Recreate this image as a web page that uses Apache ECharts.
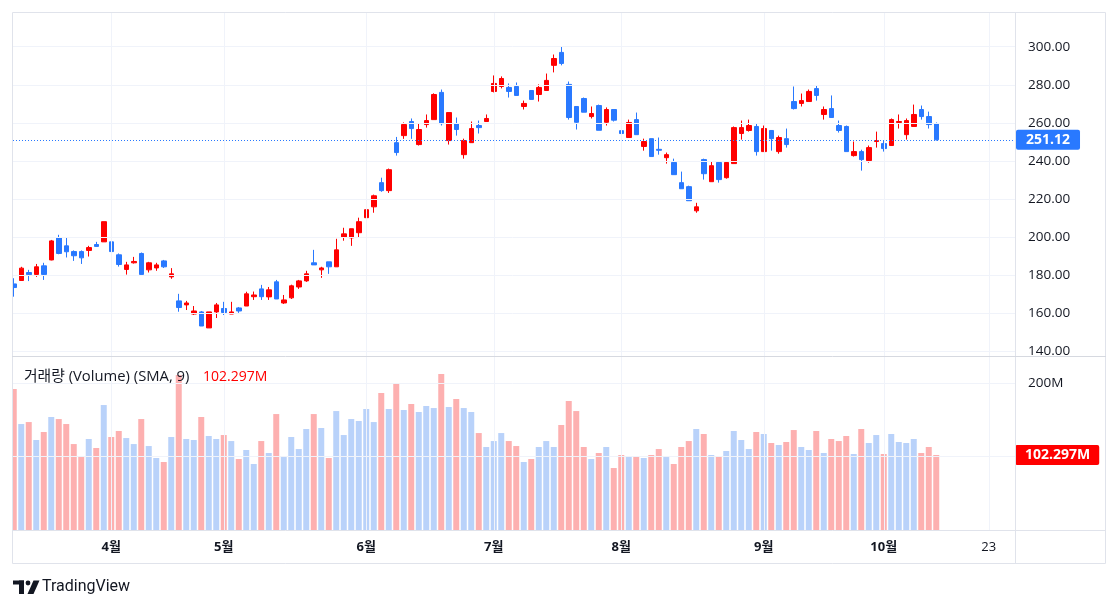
<!DOCTYPE html>
<html>
<head>
<meta charset="utf-8">
<script src="https://cdn.jsdelivr.net/npm/echarts@6/dist/echarts.min.js"></script>
<style>
html,body{margin:0;padding:0;background:#fff;}
#chart{width:1118px;height:609px;}
</style>
</head>
<body>
<div id="chart"></div>
<script>
// ---------------- DATA ----------------
const opens = [175.4,177.2,181.4,180.4,184.9,188.0,199.6,195.4,192.4,192.4,193.0,196.1,197.5,197.5,190.7,183.0,186.5,191.4,182.8,183.8,187.5,179.1,166.5,164.4,159.6,160.7,152.3,160.7,162.5,159.6,162.8,163.8,168.7,172.8,168.6,176.5,165.4,168.1,173.8,177.0,186.5,182.8,187.0,184.4,200.1,199.6,202.3,210.2,215.9,228.6,224.4,249.6,253.3,260.7,248.6,259.1,261.7,276.0,250.7,259.6,243.3,249.6,258.6,260.7,276.5,279.1,278.6,279.1,268.6,277.0,274.9,277.0,290.2,297.0,280.2,268.6,272.8,263.3,269.1,260.3,267.0,255.9,252.3,261.7,247.6,251.7,246.1,241.7,239.2,228.6,226.5,213.8,240.7,229.1,239.2,231.2,238.6,254.4,256.0,258.1,244.9,256.0,244.9,251.7,271.2,270.2,271.2,278.0,264.4,267.5,258.6,258.1,242.8,244.9,240.2,250.2,249.1,248.1,260.2,253.8,258.1,267.0,263.3,259.6];
const closes = [173.5,183.7,180.3,184.4,180.4,198.0,191.4,192.3,190.2,189.1,194.5,195.1,208.1,192.4,185.6,185.4,187.2,180.4,186.5,185.4,184.4,180.7,163.0,165.4,161.2,153.3,160.7,164.4,160.4,160.7,161.2,170.2,169.6,168.7,172.3,167.5,167.0,174.4,177.0,180.7,185.4,183.8,184.4,193.3,201.7,204.4,208.1,214.4,221.7,224.4,235.4,244.4,259.1,257.0,256.5,261.2,274.9,259.6,265.4,256.5,250.7,257.0,257.5,262.3,280.7,283.3,276.5,274.4,270.2,272.3,278.6,282.3,293.8,291.2,262.8,260.3,265.6,264.9,256.1,267.0,261.4,254.4,260.2,253.8,250.2,242.3,245.6,243.3,232.8,225.4,219.1,215.9,233.3,237.5,230.2,239.2,257.5,257.5,258.6,244.9,257.0,251.7,252.3,248.6,267.5,271.7,276.5,274.4,267.0,262.8,256.0,244.9,244.9,240.7,247.0,250.7,246.5,261.7,260.7,261.2,264.4,263.3,259.1,251.12];
const lows = [168.7,177.2,176.9,179.1,177.5,187.8,191.0,189.3,187.5,185.9,189.8,195.0,197.5,190.7,184.5,180.3,186.1,180.4,181.4,182.3,183.8,178.1,160.8,161.7,159.1,153.3,152.3,157.5,159.1,159.6,160.2,163.8,167.0,167.0,167.0,167.5,164.9,167.5,172.8,176.5,185.4,178.6,180.7,184.4,198.1,195.4,199.6,210.2,212.8,223.8,223.2,242.8,251.6,251.6,248.1,257.5,261.7,258.6,248.6,253.3,241.2,249.6,254.4,260.7,276.0,278.1,273.3,274.4,267.0,272.3,271.2,277.0,286.5,290.2,261.7,256.5,265.6,262.3,256.1,258.6,260.7,251.2,252.3,253.8,245.4,242.3,243.3,238.6,232.8,225.4,219.1,212.8,230.2,229.1,228.6,230.7,238.6,251.2,255.4,242.8,244.9,245.4,243.8,247.0,267.0,268.6,271.2,271.7,261.7,262.8,254.9,244.9,242.3,234.9,239.1,247.0,244.9,248.1,257.0,251.2,258.1,261.7,257.0,250.7];
const highs = [178.4,184.4,182.8,185.9,186.5,198.5,201.2,199.6,193.0,193.0,195.4,197.5,208.1,199.1,191.4,187.0,189.6,191.9,187.0,186.5,188.0,183.7,170.2,166.5,163.8,161.2,160.7,165.4,166.0,166.0,163.3,171.3,171.4,174.9,173.8,177.5,169.6,175.0,177.5,182.3,193.3,184.4,187.0,199.1,204.9,204.4,210.2,217.5,222.3,231.2,236.0,252.6,260.2,262.3,259.6,264.4,275.5,277.5,265.4,262.8,251.7,260.7,261.2,264.4,284.9,284.4,280.7,281.2,271.7,277.0,280.2,285.9,295.9,300.2,281.7,268.6,273.3,268.6,269.6,268.1,267.0,260.2,261.7,265.4,251.7,251.7,252.3,244.4,241.2,234.4,227.0,218.0,241.2,239.6,239.6,239.6,258.1,261.2,261.7,259.6,258.6,256.0,253.3,257.0,279.1,275.4,277.5,279.6,268.6,274.4,261.2,258.6,250.2,245.9,248.1,255.4,250.7,262.3,264.4,262.3,269.6,269.1,265.9,260.2];
const lastVolume = 102.297; // M
const volumes = [192.2,144.5,147.2,122.7,133.6,154.1,151.3,144.5,117.2,99.5,124.1,111.8,170.4,126.8,135.0,125.4,117.2,151.3,114.5,98.2,92.7,126.8,211.3,124.1,122.7,154.1,128.2,124.1,129.5,121.3,96.8,109.1,90.0,121.3,105.0,158.1,99.5,126.8,110.4,137.7,158.1,139.1,98.2,162.2,129.5,151.3,148.6,165.0,147.2,186.8,165.0,200.4,163.6,171.8,160.9,169.1,166.3,212.7,167.7,178.6,166.3,160.9,132.2,113.2,121.3,132.2,121.3,114.5,92.7,96.8,113.2,121.3,113.2,143.2,175.9,162.2,113.2,96.8,105.0,113.2,84.5,102.3,99.5,100.9,98.2,102.3,110.4,99.5,90.0,113.2,121.3,137.7,130.9,102.3,100.9,107.7,135.0,122.7,110.4,133.6,130.9,118.6,115.9,120.0,136.3,113.2,109.1,135.0,105.0,124.1,121.3,128.2,103.6,137.7,118.6,129.5,103.6,130.9,120.0,118.6,124.1,105.0,113.2,lastVolume];
const SLOTS = 134; // bar slots on the time axis (incl. empty right margin)
const categories = Array.from({length: SLOTS}, (_, i) => 'b' + i);
// [slot index, label, isMonth]
const timeTicks = [[13,'4월',true],[28,'5월',true],[47,'6월',true],[64,'7월',true],[81,'8월',true],[100,'9월',true],[116,'10월',true],[130,'23',false]];
const priceTicks = [140,160,180,200,220,240,260,280,300];
const volumeTicks = [100,200];
const volumeLabelTicks = [200];
const legendText = '거래량 (Volume) (SMA, 9)';

// ---------------- BUILD ----------------
const UP = '#ff0000', DOWN = '#2979ff';
const VOL_UP = '#b9d2fa', VOL_DOWN = '#fdb0b0';
const FONT = '"Open Sans", Roboto, "Noto Sans CJK KR", sans-serif';
const TXT = '#131722';
const GRIDC = '#f0f3fa';
const FRAME = '#e0e3eb';

const ohlc = opens.map((o, i) => [o, closes[i], lows[i], highs[i]]);
const volData = volumes.map((v, i) => ({
  value: v,
  itemStyle: {color: closes[i] >= opens[i] ? VOL_UP : VOL_DOWN}
}));
const tickMap = {};
timeTicks.forEach(t => tickMap[t[0]] = t);
const lastClose = closes[closes.length - 1];
const lastUp = closes[closes.length - 1] >= opens[opens.length - 1];

const chart = echarts.init(document.getElementById('chart'), null, {renderer: 'canvas'});

const vLines = timeTicks.map(t => ({xAxis: categories[t[0]]}));

const option = {
  animation: false,
  backgroundColor: '#ffffff',
  textStyle: {fontFamily: FONT},
  grid: [
    {left: 10, width: 1005, top: 13, height: 343},
    {left: 10, width: 1005, top: 357, height: 173}
  ],
  xAxis: [
    {type: 'category', gridIndex: 0, data: categories, show: false, boundaryGap: true},
    {type: 'category', gridIndex: 1, data: categories, boundaryGap: true,
      axisLine: {show: false}, axisTick: {show: false}, splitLine: {show: false},
      axisLabel: {
        margin: 11,
        interval: (idx) => tickMap[idx] !== undefined,
        formatter: (val, idx) => {
          const t = tickMap[idx];
          if (!t) return '';
          return t[2] ? '{m|' + t[1] + '}' : '{d|' + t[1] + '}';
        },
        rich: {
          m: {fontFamily: FONT, fontSize: 13, fontWeight: 'bold', color: TXT},
          d: {fontFamily: FONT, fontSize: 13, color: TXT}
        }
      }
    }
  ],
  yAxis: [
    {type: 'value', gridIndex: 0, position: 'right', min: 137.55, max: 317.7, scale: true,
      axisLine: {show: false}, axisTick: {show: false}, splitLine: {show: false},
      axisLabel: {customValues: priceTicks, margin: 13, color: TXT, fontFamily: FONT, fontSize: 13.5,
        formatter: v => v.toFixed(2)}
    },
    {type: 'value', gridIndex: 1, position: 'right', min: 0, max: 235.9,
      axisLine: {show: false}, axisTick: {show: false}, splitLine: {show: false},
      axisLabel: {customValues: volumeLabelTicks, margin: 13, color: TXT, fontFamily: FONT, fontSize: 13.5,
        formatter: v => v + 'M'}
    }
  ],
  series: [
    {
      type: 'line', xAxisIndex: 0, yAxisIndex: 0, data: [], z: 0, silent: true,
      markLine: {silent: true, symbol: ['none','none'], animation: false, label: {show: false},
        lineStyle: {color: GRIDC, type: 'solid', width: 1},
        data: priceTicks.map(v => ({yAxis: v})).concat(vLines)}
    },
    {
      type: 'line', xAxisIndex: 1, yAxisIndex: 1, data: [], z: 0, silent: true,
      markLine: {silent: true, symbol: ['none','none'], animation: false, label: {show: false},
        lineStyle: {color: GRIDC, type: 'solid', width: 1},
        data: volumeTicks.map(v => ({yAxis: v})).concat(vLines)}
    },
    {
      type: 'bar', xAxisIndex: 1, yAxisIndex: 1, data: volData, barWidth: 6, z: 2
    },
    {
      type: 'line', xAxisIndex: 1, yAxisIndex: 1, data: [], z: 5, silent: true,
      markLine: {silent: true, symbol: ['none','none'], animation: false,
        data: [{yAxis: lastVolume,
          lineStyle: {color: 'rgba(255,255,255,0)', width: 1, type: 'solid'},
          label: {show: true, position: 'end', distance: 0, formatter: lastVolume.toFixed(3) + 'M',
            color: '#fff', fontWeight: 'bold', fontFamily: FONT, fontSize: 14,
            backgroundColor: '#ff0000', padding: [3, 9, 3, 10], borderRadius: 2}}]}
    },
    {
      type: 'candlestick', xAxisIndex: 0, yAxisIndex: 0, data: ohlc, barWidth: 5, z: 3,
      itemStyle: {color: UP, color0: DOWN, borderColor: UP, borderColor0: DOWN, borderWidth: 1},
      markLine: {silent: true, symbol: ['none','none'], animation: false,
        data: [{yAxis: lastClose,
          lineStyle: {color: lastUp ? UP : DOWN, type: [1, 2], width: 1},
          label: {show: true, position: 'end', distance: 1, formatter: lastClose.toFixed(2),
            color: '#fff', fontWeight: 'bold', fontFamily: FONT, fontSize: 14,
            backgroundColor: lastUp ? UP : DOWN, padding: [3, 10, 3, 10], borderRadius: 2}}]}
    }
  ],
  graphic: [
    // left clip cover
    {type: 'rect', z: 100, shape: {x: 0, y: 0, width: 12, height: 609}, style: {fill: '#fff'}},
    // cover lower half of clipped 140.00 label
    {type: 'rect', z: 100, shape: {x: 1016, y: 356.5, width: 88, height: 9}, style: {fill: '#fff'}},
    // frame
    {type: 'rect', z: 101, shape: {x: 12.5, y: 12.5, width: 1093, height: 551}, style: {fill: 'none', stroke: FRAME, lineWidth: 1}},
    {type: 'line', z: 101, shape: {x1: 1015.5, y1: 12, x2: 1015.5, y2: 564}, style: {stroke: FRAME, lineWidth: 1}},
    {type: 'line', z: 101, shape: {x1: 12, y1: 356.5, x2: 1106, y2: 356.5}, style: {stroke: '#d6d9e0', lineWidth: 1}},
    {type: 'line', z: 101, shape: {x1: 12, y1: 530.5, x2: 1106, y2: 530.5}, style: {stroke: FRAME, lineWidth: 1}},
    // volume legend
    {type: 'text', z: 102, x: 24, y: 377,
      style: {text: legendText, fontFamily: FONT, fontSize: 14.8, fill: TXT, verticalAlign: 'middle'}},
    {type: 'text', z: 102, x: 203, y: 377,
      style: {text: lastVolume.toFixed(3) + 'M', fontFamily: FONT, fontSize: 14, fill: '#ff0000', verticalAlign: 'middle'}},
    // TradingView logo
    {type: 'group', z: 102, children: [
      {type: 'rect', z: 102, shape: {x: 13, y: 580.5, width: 11, height: 4}, style: {fill: TXT}},
      {type: 'rect', z: 102, shape: {x: 19, y: 580.5, width: 5, height: 13.5}, style: {fill: TXT}},
      {type: 'circle', z: 102, shape: {cx: 28, cy: 583, r: 2.4}, style: {fill: TXT}},
      {type: 'polygon', z: 102, shape: {points: [[33.5, 580.5], [39.5, 580.5], [33.5, 594], [27.5, 594]]}, style: {fill: TXT}}
    ]},
    {type: 'text', z: 102, x: 42, y: 587,
      style: {text: 'TradingView', fontFamily: 'Roboto, sans-serif', fontSize: 16, fill: TXT, verticalAlign: 'middle'}}
  ]
};
chart.setOption(option);
</script>
</body>
</html>
